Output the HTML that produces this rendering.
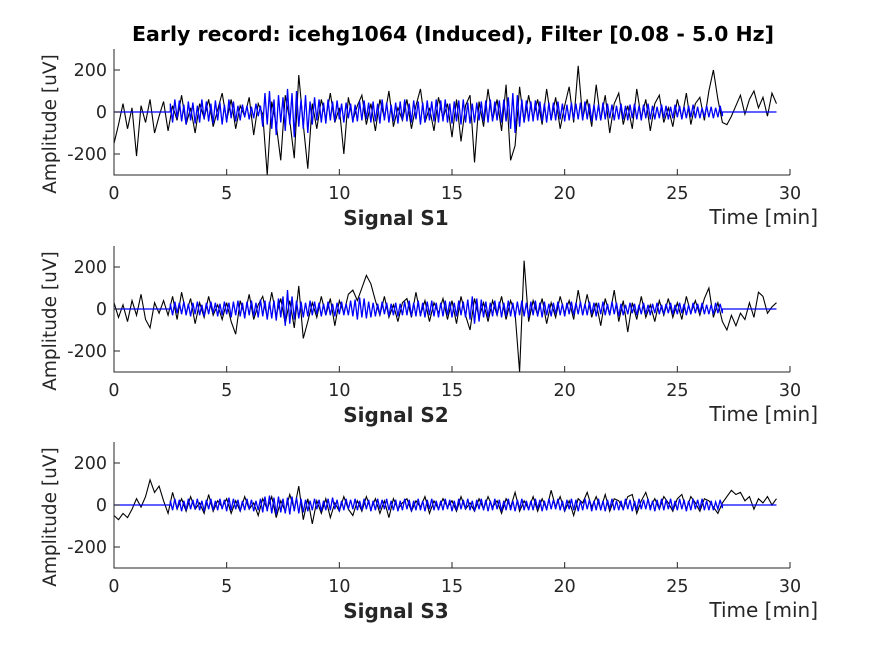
<!DOCTYPE html>
<html><head><meta charset="utf-8"><style>
body{margin:0;background:#fff;}
svg{display:block;font-family:"DejaVu Sans","Liberation Sans",sans-serif;}
</style></head><body>
<svg id="fig" width="875" height="656" viewBox="0 0 875 656">
<rect width="875" height="656" fill="#fff"/>
<text x="453" y="41" text-anchor="middle" font-size="20.5" font-weight="bold">Early record: icehg1064 (Induced), Filter [0.08 - 5.0 Hz]</text>
</svg>
<script>
const xTicks=[0,5,10,15,20,25,30];
const yTicks=[200,0,-200];
const panelNames=["Signal S1","Signal S2","Signal S3"];
const blackDt=0.2, blueDt=0.1, blueStart=2.5, signalEnd=29.4;
const s1Black=[-150,-60,40,-80,20,-210,30,-50,60,-100,-20,
50,-90,30,-40,80,-60,20,-100,40,-30,60,-70,10,90,
-40,60,-80,30,-20,70,-110,40,-10,-300,
50,-60,-230,80,-40,-220,176,-60,-270,40,
-80,60,-30,90,-50,20,-200,70,-40,30,
80,-60,40,-90,60,-30,100,-70,20,-40,
60,-80,30,110,-50,20,-90,70,-30,40,
-120,60,-140,30,80,-240,50,-70,110,-40,
60,-90,130,-230,-160,120,-50,80,-30,60,
-60,110,-40,70,-80,30,120,-50,220,-30,
60,-70,130,-40,80,-100,40,90,-60,30,
-80,110,-30,60,-90,40,80,-50,20,-70,
60,-30,90,-60,40,70,-40,100,200,60,
-50,-60,-20,30,80,-10,60,100,20,70,-20,90,40];
const s2Black=[30,-40,20,-60,40,-30,70,-50,-90,30,-20,
40,-30,60,-50,80,-20,50,-70,30,-40,60,-30,20,-50,
30,-60,-120,40,-30,70,-50,20,60,-40,
80,-30,50,-70,40,-90,110,-140,-60,30,
-40,60,-30,50,-80,40,-20,70,90,40,
100,160,120,40,-30,60,-40,20,-60,30,
50,-40,80,-30,40,-60,30,-20,50,-50,
40,-70,60,-30,-100,50,-40,30,-60,40,
-30,60,-50,40,-20,-300,230,-60,40,-30,
50,-70,30,-40,60,-20,40,-50,90,-30,
70,-40,30,-80,50,-30,90,-60,40,-110,
30,-50,60,-40,20,-60,40,-30,50,-40,
30,-50,60,-20,40,-30,50,100,-40,30,
-60,-100,-30,-80,-20,-50,30,-40,80,60,-20,10,30];
const s3Black=[-50,-70,-40,-60,-20,30,-10,40,120,60,90,
20,-40,60,-20,30,-30,40,-20,10,-40,50,-30,20,-10,
30,-40,20,-30,40,-20,10,-50,30,-20,
40,-60,20,-30,50,-20,90,-70,30,-90,
20,-40,30,-60,10,-30,40,-20,-50,20,
-30,40,-20,30,-40,20,-60,30,-20,10,
30,-30,20,-10,40,-40,20,-20,30,-10,
20,-30,40,-20,10,-30,30,-20,40,-10,
20,-40,30,-10,60,-30,20,-20,40,-30,
30,-20,70,-10,40,-30,20,-50,30,10,
60,-10,40,-20,50,-30,30,20,-20,40,
50,-40,20,60,-10,30,-20,40,10,-30,
30,50,-20,40,10,-30,30,20,-10,-40,
10,40,70,50,60,20,40,-20,30,10,40,0,30];
const s1Blue=[40,-50,60,-30,55,-45,35,-60,50,-40,45,-55,30,-50,60,-35,50,-45,40,-55,
55,-40,45,-60,35,-50,60,-30,50,-45,30,-40,35,-25,30,-35,25,-30,40,-20,
30,-70,90,-60,100,-80,60,-110,80,-50,70,-90,110,-60,90,-120,100,-70,60,-80,
80,-100,50,-60,70,-40,60,-50,45,-55,60,-40,50,-45,55,-35,40,-50,45,-30,
40,-50,35,-45,50,-40,55,-35,45,-50,50,-45,40,-55,60,-40,45,-50,35,-45,
45,-55,50,-40,60,-45,40,-50,55,-35,50,-60,45,-50,55,-40,50,-45,60,-50,
55,-45,60,-50,40,-55,50,-45,55,-60,60,-50,45,-55,40,-50,45,-40,50,-45,
55,-50,60,-45,50,-40,55,-50,60,-45,70,-80,90,-100,80,-70,60,-50,55,-45,
50,-45,55,-40,50,-45,40,-50,45,-40,45,-40,50,-35,40,-45,35,-40,45,-35,
40,-35,45,-40,50,-35,40,-45,35,-40,35,-40,45,-35,40,-30,35,-40,30,-35,
40,-35,30,-40,35,-30,40,-35,30,-40,35,-30,40,-35,30,-35,25,-30,35,-30,
30,-35,25,-30,35,-25,30,-35,25,-30,30,-25,35,-30,25,-30,20,-25,30,-25,
25,-30,20,-25,30,-20];
const s2Blue=[25,-30,35,-20,30,-25,35,-30,25,-35,30,-25,35,-30,20,-35,30,-25,35,-20,
30,-35,25,-30,35,-25,30,-40,35,-30,40,-35,30,-45,35,-30,40,-35,30,-40,
45,-35,40,-50,35,-45,40,-55,50,-40,60,-80,90,-70,60,-50,40,-45,35,-40,
30,-35,40,-30,35,-25,30,-35,25,-30,35,-30,25,-35,30,-25,35,-30,25,-30,
40,-35,45,-50,55,-40,50,-45,35,-40,30,-35,25,-30,35,-25,30,-35,25,-30,
30,-35,25,-30,35,-30,40,-35,30,-35,40,-35,30,-40,35,-30,40,-35,30,-40,
30,-35,40,-30,35,-40,30,-35,40,-30,35,-40,45,-50,60,-70,50,-60,45,-40,
35,-40,30,-35,40,-30,35,-40,30,-35,40,-35,30,-40,35,-30,40,-35,30,-40,
35,-30,40,-35,30,-40,35,-30,25,-35,30,-25,35,-30,25,-35,30,-25,35,-30,
30,-25,35,-30,25,-30,35,-25,30,-35,30,-25,35,-30,25,-30,35,-25,30,-35,
25,-30,20,-25,30,-20,25,-30,20,-25,30,-25,20,-30,25,-20,30,-25,20,-25,
25,-20,30,-25,20,-25,30,-20,25,-30,20,-25,30,-20,25,-20,30,-25,20,-25,
20,-25,30,-20,25,-20];
const s3Blue=[20,-25,30,-20,25,-30,20,-25,30,-20,25,-20,30,-25,20,-30,25,-20,30,-25,
20,-25,30,-20,25,-30,35,-25,30,-20,25,-30,20,-25,30,-20,25,-30,20,-25,
30,-35,40,-30,45,-40,35,-45,40,-35,30,-40,35,-45,40,-30,35,-40,30,-35,
25,-30,20,-25,30,-20,25,-30,20,-25,30,-25,35,-20,25,-30,20,-25,30,-20,
25,-20,30,-25,20,-25,30,-20,25,-30,20,-25,30,-20,25,-20,30,-25,20,-25,
25,-30,20,-25,30,-20,25,-30,20,-25,30,-25,20,-30,25,-20,30,-25,20,-25,
20,-25,30,-20,25,-30,20,-25,30,-20,25,-20,30,-25,20,-30,25,-20,30,-25,
25,-30,20,-25,30,-20,25,-30,20,-25,30,-25,20,-30,25,-20,30,-25,20,-25,
20,-25,30,-20,25,-30,20,-25,30,-20,25,-20,30,-25,20,-30,25,-20,30,-25,
25,-30,20,-25,30,-20,25,-30,20,-25,30,-25,20,-30,25,-20,30,-25,20,-25,
20,-25,30,-20,25,-30,20,-25,30,-20,25,-20,30,-25,20,-30,25,-20,30,-25,
25,-20,30,-25,20,-25,30,-20,25,-30,20,-25,30,-20,25,-20,30,-25,20,-25,
20,-25,15,-20,25,-15];
const blacks=[s1Black,s2Black,s3Black];
const blues=[s1Blue,s2Blue,s3Blue];
const zeroYs=[112,309,505];

const NS="http://www.w3.org/2000/svg";
const svg=document.getElementById('fig');
const X0=114,X1=790;
function xs(t){return X0+(t/30)*(X1-X0);}
function mk(tag,attrs,parent){const e=document.createElementNS(NS,tag);for(const k in attrs)e.setAttribute(k,attrs[k]);(parent||svg).appendChild(e);return e;}

for(let p=0;p<3;p++){
  const z=zeroYs[p];
  const ys=v=>z-v*0.21;
  const top=ys(300),bot=ys(-300);
  const g=mk('g',{});
  
  
  let d='';
  blacks[p].forEach((v,i)=>{d+=(i?'L':'M')+xs(i*blackDt).toFixed(2)+' '+ys(v).toFixed(2);});
  const bl=mk('path',{d:d,fill:'none',stroke:'#000','stroke-width':1.1},g);
  
  
  let d2='M'+xs(0)+' '+ys(0)+'L'+xs(blueStart)+' '+ys(0);
  const bv=blues[p];
  bv.forEach((v,i)=>{d2+='L'+xs(blueStart+i*blueDt).toFixed(2)+' '+ys(v).toFixed(2);});
  const blueEnd=blueStart+(bv.length-1)*blueDt;
  d2+='L'+xs(blueEnd).toFixed(2)+' '+ys(0)+'L'+xs(signalEnd)+' '+ys(0);
  const bu=mk('path',{d:d2,fill:'none',stroke:'#0000ff','stroke-width':1.3},g);
  
  
  const ax=mk('path',{d:'M'+X0+' '+top+'L'+X0+' '+bot+'L'+X1+' '+bot,fill:'none',stroke:'#262626','stroke-width':1},g);
  
  
  xTicks.forEach(t=>{
    mk('line',{x1:xs(t),x2:xs(t),y1:bot,y2:bot-6,stroke:'#262626'},g);
    const tl=mk('text',{x:xs(t),y:bot+24,'text-anchor':'middle','font-size':17.5,fill:'#262626'},g);
    tl.textContent=t;
    
    
  });
  yTicks.forEach(v=>{
    mk('line',{x1:X0,x2:X0+6,y1:ys(v),y2:ys(v),stroke:'#262626'},g);
    const tl=mk('text',{x:X0-7,y:ys(v)+6,'text-anchor':'end','font-size':17.5,fill:'#262626'},g);
    tl.textContent=v;
    
    
  });
  const yl=mk('text',{x:0,y:0,'text-anchor':'middle','font-size':18.5,fill:'#262626',transform:'translate(56,'+(z+12)+') rotate(-90)'},g);
  yl.textContent='Amplitude [uV]';
  
  
  const xl=mk('text',{x:396,y:bot+50,'text-anchor':'middle','font-size':20,'font-weight':'bold',fill:'#262626'},g);
  xl.textContent=panelNames[p];
  
  
  const tl2=mk('text',{x:818,y:bot+49,'text-anchor':'end','font-size':20,fill:'#262626'},g);
  tl2.textContent='Time [min]';
  
  
}
</script>
</body></html>
